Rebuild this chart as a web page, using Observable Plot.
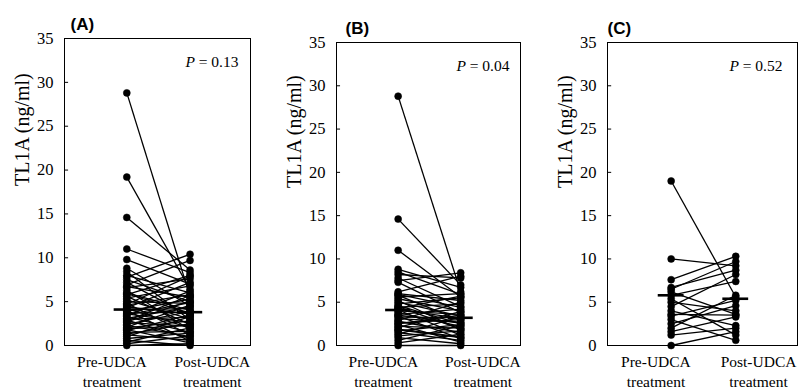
<!DOCTYPE html>
<html>
<head>
<meta charset="utf-8">
<script src="https://cdn.jsdelivr.net/npm/d3@7"></script>
<script src="https://cdn.jsdelivr.net/npm/@observablehq/plot@0.6"></script>
<style>
  html, body { margin: 0; padding: 0; background: #fff; }
  #row { display: flex; flex-direction: row; width: 798px; height: 389px; overflow: hidden; }
  svg { display: block; }
  svg text { font-family: "Liberation Serif", "Times New Roman", serif; }
</style>
</head>
<body>
<div id="row"></div>
<script>
// ---------- data ----------
const categories = ["Pre-UDCA\ntreatment", "Post-UDCA\ntreatment"];
const yTicks = [0, 5, 10, 15, 20, 25, 30, 35];
const yLabel = "TL1A (ng/ml)";
const panelTitles = ["(A)", "(B)", "(C)"];
const pValues = ["0.13", "0.04", "0.52"];

const preA  = [28.8,19.2,14.6,11.0,9.8,8.8,8.4,8.0,7.8,7.5,7.2,6.9,6.6,6.3,6.0,5.8,5.6,5.4,5.2,5.0,4.8,4.6,4.4,4.3,4.2,4.1,4.0,3.9,3.7,3.6,3.4,3.3,3.1,3.0,2.9,2.7,2.6,2.4,2.3,2.1,2.0,1.8,1.7,1.5,1.3,1.2,1.0,0.8,0.6,0.4,0.2,0.0,6.7,5.9,4.7,3.5,2.8,1.9];
const postA = [5.6,6.4,8.6,8.3,7.0,4.5,2.9,6.0,10.4,5.0,3.4,9.7,7.6,1.8,4.0,8.0,2.4,6.8,3.0,4.8,1.2,5.8,3.6,7.2,2.0,4.2,0.5,5.3,3.8,2.6,6.2,1.5,4.4,3.2,0.8,5.1,2.2,3.9,1.0,4.6,2.8,0.3,3.5,1.6,2.5,0.6,3.3,1.4,0.0,2.0,1.1,0.2,5.5,3.7,7.9,4.9,5.7,2.3];

const preB  = [28.8,14.6,11.0,8.8,8.5,8.2,7.8,7.5,7.3,6.2,6.0,5.8,5.6,5.4,5.2,5.0,4.8,4.6,4.4,4.2,4.1,4.0,3.8,3.6,3.4,3.3,3.1,2.9,2.8,2.6,2.4,2.2,2.1,1.9,1.7,1.5,1.3,1.1,0.9,0.6,0.3,0.0,3.5,4.5,5.9,2.5,1.8,4.3];
const postB = [6.2,7.0,5.6,6.7,5.9,7.8,4.5,8.4,3.8,8.0,5.2,2.9,6.0,4.0,1.8,3.4,5.5,2.5,4.8,3.1,1.2,3.6,2.2,4.2,0.8,3.2,2.7,5.0,1.5,3.0,0.4,2.0,3.9,1.0,2.4,0.6,3.3,1.7,0.2,2.3,1.3,0.0,2.6,1.9,4.4,3.5,0.9,5.7];

const preC  = [19.0,10.0,7.6,6.7,6.5,6.2,5.8,5.4,5.0,4.5,4.0,3.6,3.4,3.0,2.5,2.0,1.6,1.2,0.0];
const postC = [5.6,9.2,10.3,8.7,9.7,3.6,7.4,1.2,4.0,8.2,2.3,3.5,5.2,0.6,4.6,5.8,3.3,2.0,1.6];

const mediansPre  = [4.1, 4.1, 5.8];
const mediansPost = [3.8, 3.2, 5.4];

// ---------- layout ----------
const SERIF = "'Liberation Serif', 'Times New Roman', serif";
const SANS = "'Liberation Sans', Arial, sans-serif";
const PRE_X = 0.335, POST_X = 0.675;      // point columns (fraction of frame)
const LABEL_X = [0.255, 0.795];           // category label centres
const HALF = 0.068;                        // half width of median bars
const layouts = [
  {width: 270, marginLeft: 64, marginRight: 20, marginTop: 38, titleDx: 6,  pDx: -12},
  {width: 260, marginLeft: 66, marginRight: 10, marginTop: 42, titleDx: 9,  pDx: -11},
  {width: 268, marginLeft: 77, marginRight: 1,  marginTop: 42, titleDx: 0,  pDx: -15}
];
const panels = [[preA, postA], [preB, postB], [preC, postC]];

const row = document.getElementById("row");

panels.forEach(([pre, post], i) => {
  const L = layouts[i];
  const pairs = pre.map((v, j) => ({pre: v, post: post[j]}));
  const svg = Plot.plot({
    width: L.width,
    height: 389,
    marginLeft: L.marginLeft,
    marginRight: L.marginRight,
    marginTop: L.marginTop,
    marginBottom: 44,
    style: {fontFamily: SERIF, fontSize: "15px", color: "black", background: "white"},
    x: {domain: [0, 1], axis: null},
    y: {domain: [0, 35], axis: null},
    marks: [
      Plot.frame({stroke: "black", strokeWidth: 1}),
      Plot.axisY({ticks: yTicks, tickSize: 0, tickPadding: 11, fontSize: 16.5, label: null}),
      Plot.ruleY(yTicks, {y: d => d, x1: 0, x2: 0.022, stroke: "black"}),
      Plot.axisX({ticks: LABEL_X, tickSize: 0, tickPadding: 8, fontSize: 15.5, lineHeight: 1.25,
                  tickFormat: d => categories[LABEL_X.indexOf(d)], label: null}),
      Plot.link(pairs, {x1: PRE_X, x2: POST_X, y1: "pre", y2: "post", stroke: "black", strokeWidth: 1.3}),
      Plot.dot(pre,  {x: PRE_X,  y: d => d, r: 3.5, fill: "black", stroke: "black", strokeWidth: 0.5}),
      Plot.dot(post, {x: POST_X, y: d => d, r: 3.5, fill: "black", stroke: "black", strokeWidth: 0.5}),
      Plot.ruleY([mediansPre[i]],  {x1: PRE_X - HALF,  x2: PRE_X + HALF,  stroke: "black", strokeWidth: 2.6}),
      Plot.ruleY([mediansPost[i]], {x1: POST_X - HALF, x2: POST_X + HALF, stroke: "black", strokeWidth: 2.6}),
      Plot.text([yLabel], {frameAnchor: "left", rotate: -90, dx: -42, dy: -6, fontSize: 20, text: d => d}),
      Plot.text([panelTitles[i]], {frameAnchor: "top-left", textAnchor: "start", lineAnchor: "bottom", dx: L.titleDx, dy: -9,
                 fontSize: 17, fontWeight: "bold", text: d => d}),
      Plot.text(["P = " + pValues[i]], {frameAnchor: "top-right", textAnchor: "end", lineAnchor: "bottom", dx: L.pDx, dy: 28,
                 fontSize: 15.5, text: d => d})
    ]
  });
  const ns = "http://www.w3.org/2000/svg";
  svg.querySelectorAll("text").forEach(t => {
    // panel letters are in a sans-serif face
    if (panelTitles.includes(t.textContent)) t.style.fontFamily = SANS;
    // italicise the P of the P value label
    if (t.textContent.startsWith("P = ")) {
      const rest = t.textContent.slice(1);
      t.textContent = "";
      const a = document.createElementNS(ns, "tspan");
      a.setAttribute("font-style", "italic");
      a.textContent = "P";
      const b = document.createElementNS(ns, "tspan");
      b.textContent = rest;
      t.appendChild(a); t.appendChild(b);
    }
  });
  row.appendChild(svg);
});
</script>
</body>
</html>
